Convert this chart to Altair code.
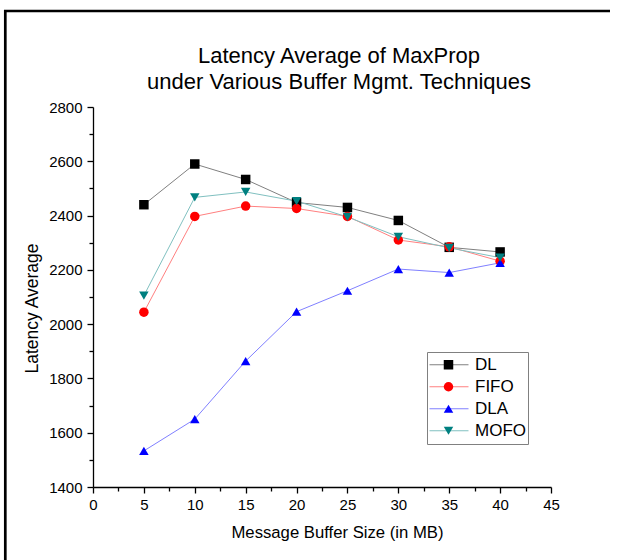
import altair as alt
import pandas as pd

buffer_sizes = [5, 10, 15, 20, 25, 30, 35, 40]
series_names = ["DL", "FIFO", "DLA", "MOFO"]
dl_values = [2440, 2590, 2533, 2448, 2430, 2382, 2283, 2266]
fifo_values = [2044, 2397, 2435, 2426, 2397, 2310, 2285, 2232]
dla_values = [1533, 1650, 1864, 2046, 2123, 2203, 2190, 2226]
mofo_values = [2105, 2467, 2487, 2453, 2395, 2322, 2281, 2245]

x_major = [0, 5, 10, 15, 20, 25, 30, 35, 40, 45]
x_minor = [2.5, 7.5, 12.5, 17.5, 22.5, 27.5, 32.5, 37.5, 42.5]
y_major = [1400, 1600, 1800, 2000, 2200, 2400, 2600, 2800]
y_minor = [1500, 1700, 1900, 2100, 2300, 2500, 2700]

marker_colors = ["#000000", "#ff0000", "#0000ff", "#008080"]
line_colors = ["#808080", "#ff8080", "#8080ff", "#80c0c0"]
marker_shapes = ["square", "circle", "triangle-up", "triangle-down"]

rows = []
for name, vals in zip(series_names, [dl_values, fifo_values, dla_values, mofo_values]):
    for bs, v in zip(buffer_sizes, vals):
        rows.append({"size": bs, "latency": v, "series": name})
df = pd.DataFrame(rows)

FONT = "Liberation Sans"
xscale = alt.Scale(domain=[0, 45], nice=False, zero=False)
yscale = alt.Scale(domain=[1400, 2800], nice=False, zero=False)

axis_common = dict(grid=False, domainColor="black", tickColor="black", domainWidth=1.3,
                   tickWidth=1.3, labelColor="black", titleColor="black",
                   labelFont=FONT, titleFont=FONT, labelFontSize=15,
                   titleFontWeight="normal", labelFlush=False, labelOverlap=False)

x_axis_major = alt.Axis(values=x_major, tickSize=6, labelPadding=4, orient="bottom", format="d",
                        title="Message Buffer Size (in MB)", titlePadding=12, titleFontSize=16.7,
                        titleX=244, titleAnchor="middle", **axis_common)
x_axis_minor = alt.Axis(values=x_minor, tickSize=4, labels=False, domain=False, orient="bottom",
                        title=None, grid=False, tickColor="black", tickWidth=1.3)
y_axis_major = alt.Axis(values=y_major, tickSize=6, labelPadding=5, orient="left", format="d",
                        title="Latency Average", titlePadding=7, titleFontSize=17.5,
                        titleY=201, **axis_common)
y_axis_minor = alt.Axis(values=y_minor, tickSize=4, labels=False, domain=False, orient="left",
                        title=None, grid=False, tickColor="black", tickWidth=1.3)

LEG_X = 334
LEG_Y = 245

lines = alt.Chart(df).mark_line(strokeWidth=1).encode(
    x=alt.X("size:Q", scale=xscale, axis=x_axis_major),
    y=alt.Y("latency:Q", scale=yscale, axis=y_axis_major),
    color=alt.Color("series:N", scale=alt.Scale(domain=series_names, range=line_colors),
                    legend=alt.Legend(orient="none", legendX=LEG_X, legendY=LEG_Y, title=None,
                                      symbolType="stroke", symbolSize=1521, symbolStrokeWidth=1,
                                      clipHeight=21.5, rowPadding=0, labelFontSize=17,
                                      labelFont=FONT, labelColor="black", labelOffset=6,
                                      strokeColor="#808080", padding=2)),
)

point_legend = alt.Legend(orient="none", legendX=LEG_X + 11, legendY=LEG_Y, title=None,
                          symbolSize=90, clipHeight=21.5, rowPadding=0, labelFontSize=17,
                          labelFont=FONT, labelOpacity=0, padding=2, symbolStrokeWidth=0)

points = alt.Chart(df).mark_point(filled=True, size=90, opacity=1).encode(
    x=alt.X("size:Q", scale=xscale, axis=x_axis_minor),
    y=alt.Y("latency:Q", scale=yscale, axis=y_axis_minor),
    color=alt.Color("series:N", scale=alt.Scale(domain=series_names, range=marker_colors),
                    legend=point_legend),
    shape=alt.Shape("series:N", scale=alt.Scale(domain=series_names, range=marker_shapes),
                    legend=point_legend),
)

frame_data = alt.Data(values=[{"k": 0}])
left_frame = alt.Chart(frame_data).mark_rule(color="black", strokeWidth=2.7).encode(
    x=alt.value(-87.7), y=alt.value(-97), y2=alt.value(453))
top_frame = alt.Chart(frame_data).mark_rule(color="black", strokeWidth=2.7).encode(
    x=alt.value(-89), x2=alt.value(517), y=alt.value(-96))

chart = alt.layer(lines, points, left_frame, top_frame).resolve_scale(
    color="independent", shape="independent"
).resolve_axis(x="independent", y="independent").properties(
    width=458, height=380,
    background="white",
    autosize=alt.AutoSizeParams(type="none"),
    padding={"left": 93, "top": 107, "right": 69, "bottom": 73},
    title=alt.Title(["Latency Average of MaxProp", "under Various Buffer Mgmt. Techniques"],
                    fontSize=22, font=FONT, fontWeight="normal", color="black",
                    anchor="middle", dx=17, offset=-85, lineHeight=26),
).configure_view(stroke=None)

chart.save("out.html", embed_options={"renderer": "svg", "actions": False})
